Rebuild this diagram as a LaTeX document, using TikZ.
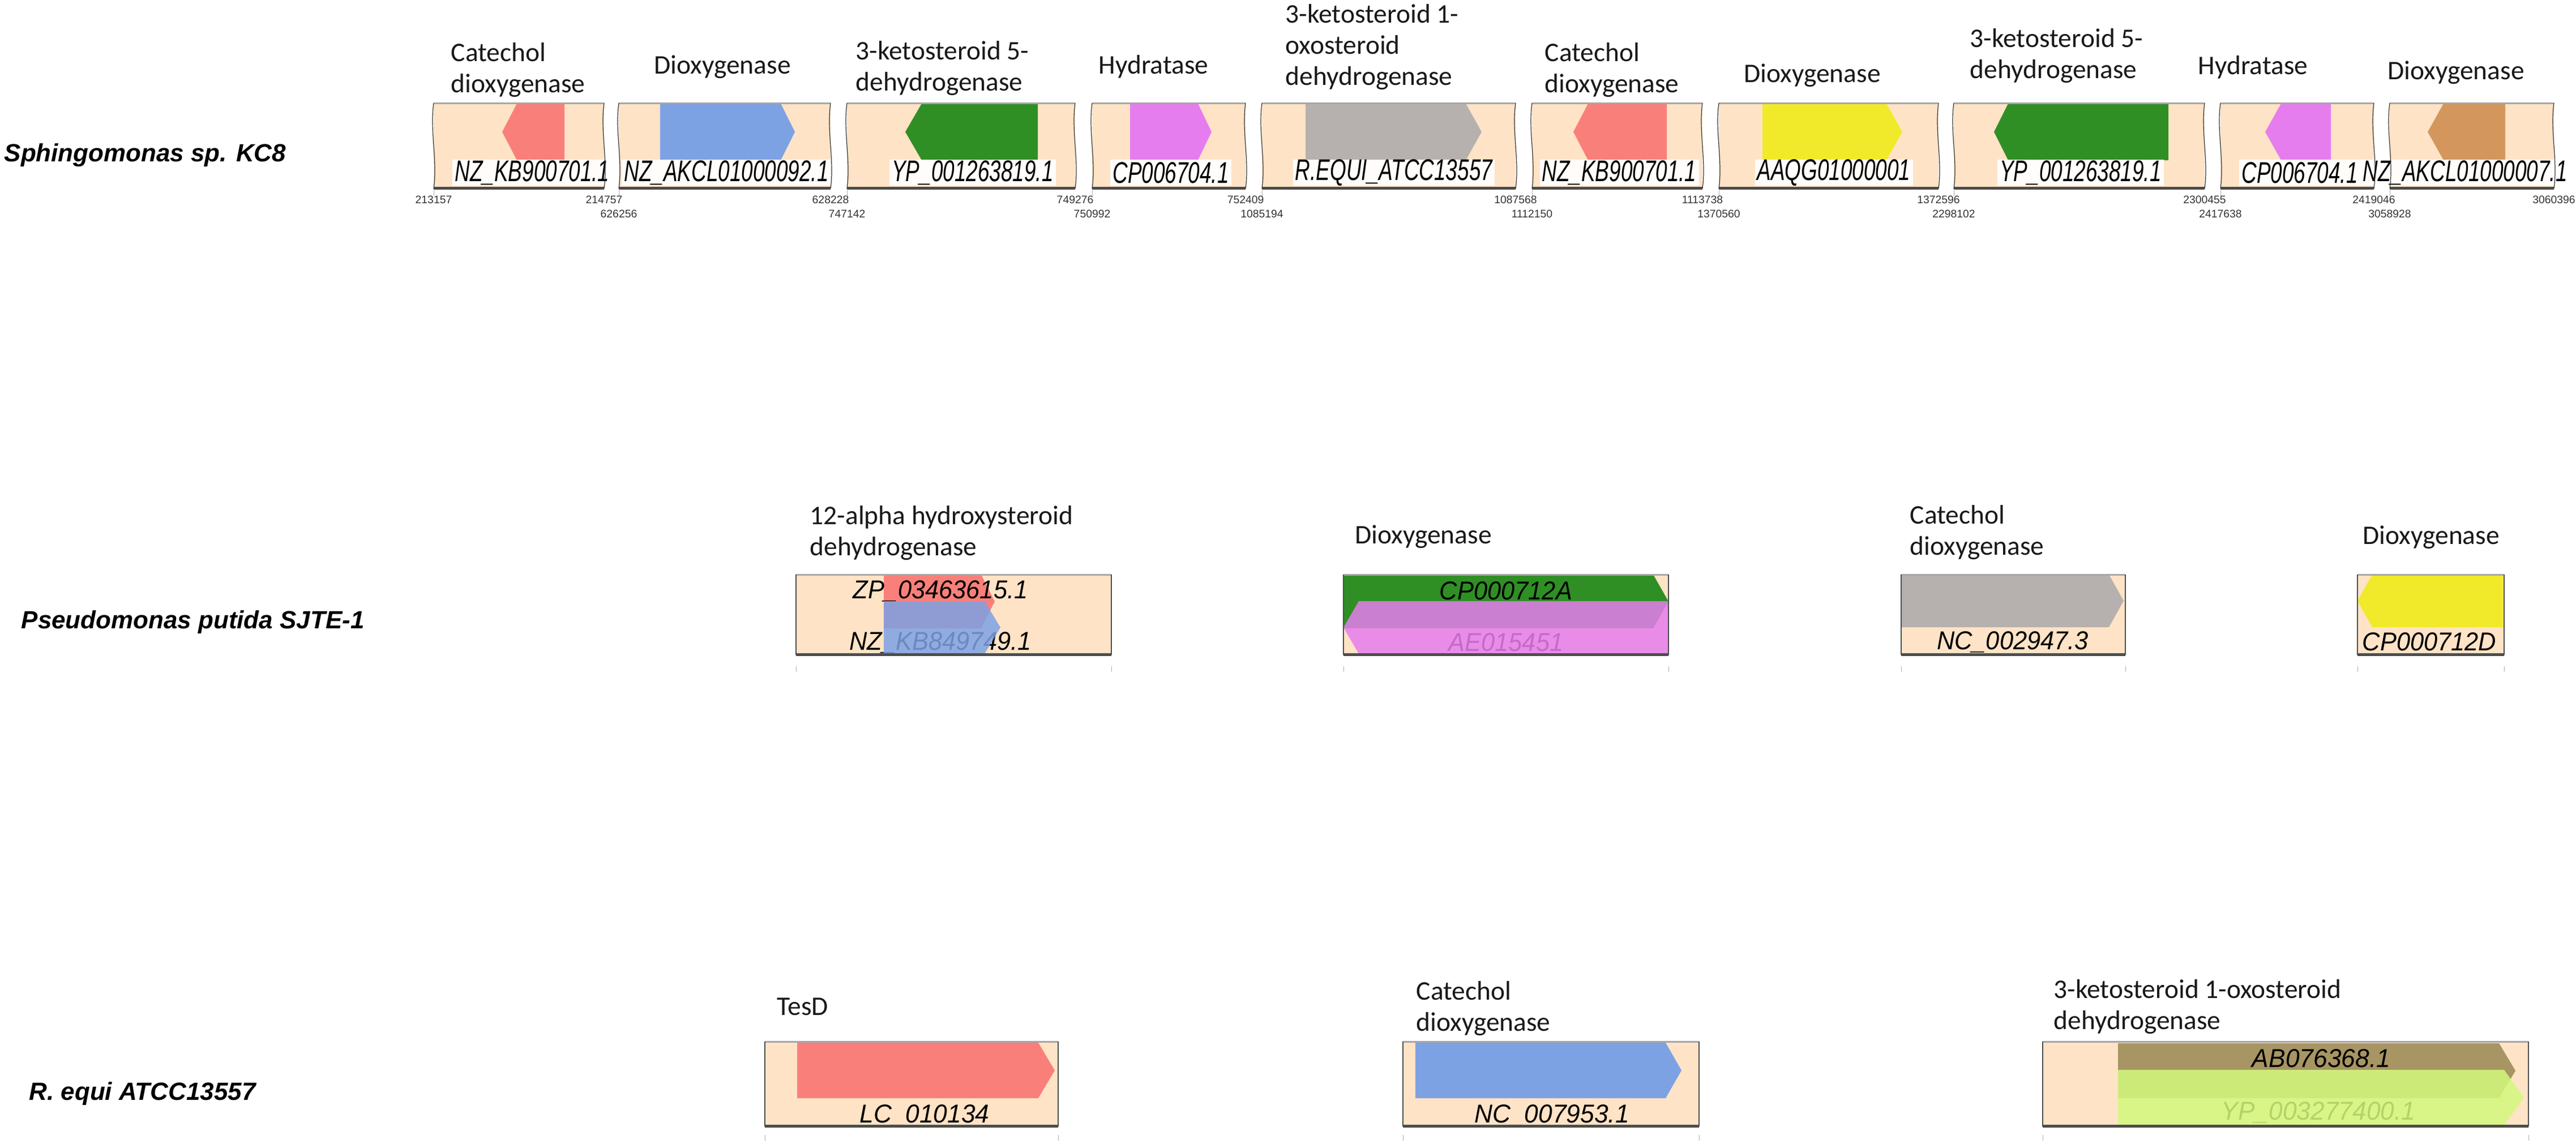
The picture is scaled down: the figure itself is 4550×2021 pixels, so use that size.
\documentclass[tikz,border=0pt]{standalone}
\usepackage{fontspec}
\usepackage{graphicx}
\setmainfont{Carlito}
\newfontfamily\accfont{Liberation Sans}
\usetikzlibrary{positioning}

\definecolor{beige}{HTML}{FFE3C6}
\definecolor{salmon}{HTML}{F9807A}
\definecolor{cblue}{HTML}{7DA2E4}
\definecolor{dgreen}{HTML}{2F8F25}
\definecolor{orchid}{HTML}{E67DEF}
\definecolor{lgrey}{HTML}{B6B1AE}
\definecolor{yel}{HTML}{F1EA2B}
\definecolor{brn}{HTML}{D3975D}
\definecolor{olv}{HTML}{A79563}
\definecolor{lime}{HTML}{D3F97C}

\tikzset{
  fn/.style={font=\fontsize{13.5}{15.6}\selectfont, text=black!90, align=left, inner sep=0pt, anchor=north west},
  species/.style={font=\accfont\bfseries\itshape\fontsize{12.5}{14}\selectfont, inner sep=0pt, anchor=base west},
  accone/.style={font=\accfont\itshape\fontsize{15}{17}\selectfont, fill=white, fill opacity=0.9, text opacity=1, inner xsep=0.04cm, inner ysep=0pt, minimum height=0.45cm},
  acctwo/.style={font=\accfont\itshape\fontsize{13}{15}\selectfont, inner sep=0pt},
  num/.style={font=\accfont\fontsize{5.5}{6}\selectfont, text=black!80, inner sep=0pt},
  topline/.style={draw=black!35, line width=0.03cm},
  botline/.style={draw=black!70, line width=0.05cm},
  breakline/.style={draw=black!80, line width=0.012cm},
  sideline/.style={draw=black!70, line width=0.015cm},
  tickline/.style={draw=black!30, line width=0.01cm}
}

% gene arrows: right pointing {x1}{x2}{tip}{ytop}{ybot}{colour}
\newcommand{\geneR}[6]{\fill[#6] (#1,#4) -- (#2,#4) -- (#3,{(#4+#5)/2}) -- (#2,#5) -- (#1,#5) -- cycle;}
% left pointing {tip}{x1}{x2}{ytop}{ybot}{colour}
\newcommand{\geneL}[6]{\fill[#6] (#1,{(#4+#5)/2}) -- (#2,#4) -- (#3,#4) -- (#3,#5) -- (#2,#5) -- cycle;}
\newcommand{\acc}[2]{\scalebox{#1}[1]{#2}}

\begin{document}
\begin{tikzpicture}[x=0.01cm, y=-0.01cm]
	\useasboundingbox (0,0) rectangle (4550,2021);

	% species names
	\node[species] (sph) at (7,285) {Sphingomonas sp. KC8};
	\node[species] (pse) at (37,1110) {Pseudomonas putida SJTE-1};
	\node[species] (req) at (51,1943) {R. equi ATCC13557};

	% Sphingomonas track
	\foreach \a/\b in {766/1067,1093/1467,1496/1899,1929/2200,2229/2677,2706/3007,3036/3424,3451/3894,3922/4193,4221/4511}
		\fill[beige] (\a,182) rectangle (\b,333);

	\geneL{887}{913}{997}{183}{283}{salmon}
	\geneR{1166}{1379}{1404}{183}{283}{cblue}
	\geneL{1599}{1628}{1833}{183}{283}{dgreen}
	\geneR{1996}{2116}{2140}{183}{283}{orchid}
	\geneR{2306}{2589}{2617}{183}{283}{lgrey}
	\geneL{2779}{2805}{2944}{183}{283}{salmon}
	\geneR{3113}{3332}{3360}{183}{283}{yel}
	\geneL{3522}{3547}{3830}{183}{283}{dgreen}
	\geneL{4001}{4029}{4117}{183}{283}{orchid}
	\geneL{4288}{4316}{4425}{183}{283}{brn}

	\node[accone] (acc1) at (940,305) {\acc{0.7}{NZ\_KB900701.1}};
	\node[accone] (acc2) at (1283,305) {\acc{0.7}{NZ\_AKCL01000092.1}};
	\node[accone] (acc3) at (1718,305) {\acc{0.7}{YP\_001263819.1}};
	\node[accone] (acc4) at (2068,305) {\acc{0.7}{CP006704.1}};
	\node[accone] (acc5) at (2462,305) {\acc{0.7}{R.EQUI\_ATCC13557}};
	\node[accone] (acc6) at (2860,305) {\acc{0.7}{NZ\_KB900701.1}};
	\node[accone] (acc7) at (3239,305) {\acc{0.7}{AAQG01000001}};
	\node[accone] (acc8) at (3675,305) {\acc{0.7}{YP\_001263819.1}};
	\node[accone] (acc9) at (4062,305) {\acc{0.7}{CP006704.1}};
	\node[accone] (acc10) at (4354,305) {\acc{0.7}{NZ\_AKCL01000007.1}};

	\foreach \a/\b in {766/1067,1093/1467,1496/1899,1929/2200,2229/2677,2706/3007,3036/3424,3451/3894,3922/4193,4221/4511}{
		\draw[topline] (\a,182) -- (\b,182);
		\draw[botline] (\a,332) -- (\b,332);
		\draw[breakline] (\a,182) .. controls +(-7,50) and +(7,-50) .. (\a,333);
		\draw[breakline] (\b,182) .. controls +(-7,50) and +(7,-50) .. (\b,333);
		\draw[tickline] (\a,336) -- (\a,346);
	}

	\foreach \x/\t/\yy [count=\i] in {766/213157/353,1067/214757/353,1093/626256/378,1467/628228/353,1496/747142/378,1899/749276/353,1929/750992/378,2200/752409/353,2229/1085194/378,2677/1087568/353,2706/1112150/378,3007/1113738/353,3036/1370560/378,3424/1372596/353,3451/2298102/378,3894/2300455/353,3922/2417638/378,4193/2419046/353,4221/3058928/378,4511/3060396/353}
		\node[num] (num\i) at (\x,\yy) {\t};

	% gene names above the track
	\node[fn] (lab1) at (796,75) {Catechol\\dioxygenase};
	\node[fn] (lab2) at (1155,97) {Dioxygenase};
	\node[fn] (lab3) at (1511,72) {3-ketosteroid 5-\\dehydrogenase};
	\node[fn] (lab4) at (1940,97) {Hydratase};
	\node[fn] (lab5) at (2270,7) {3-ketosteroid 1-\\oxosteroid\\dehydrogenase};
	\node[fn] (lab6) at (2728,75) {Catechol\\dioxygenase};
	\node[fn] (lab7) at (3080,112) {Dioxygenase};
	\node[fn] (lab8) at (3479,50) {3-ketosteroid 5-\\dehydrogenase};
	\node[fn] (lab9) at (3882,98) {Hydratase};
	\node[fn] (lab10) at (4217,107) {Dioxygenase};

	% Pseudomonas
	\foreach \a/\b in {1406/1963,2373/2947,3358/3754,4164/4423}
		\fill[beige] (\a,1015) rectangle (\b,1157);

	\geneR{1561}{1733}{1757}{1015}{1110}{salmon}
	\node[acctwo] (zp) at (1661,1044) {\acc{0.95}{ZP\_03463615.1}};
	\node[acctwo] (nzkb) at (1661,1135) {\acc{0.95}{NZ\_KB849749.1}};
	\geneR{1561}{1739}{1767}{1062}{1155}{cblue, fill opacity=0.85}

	\geneR{2373}{2920}{2947}{1015}{1110}{dgreen}
	\node[acctwo] (cpa) at (2660,1044) {\acc{0.95}{CP000712A}};
	\node[acctwo] (ae) at (2660,1135) {\acc{0.95}{AE015451}};
	\geneL{2373}{2400}{2947}{1062}{1155}{orchid, fill opacity=0.85}

	\geneR{3358}{3725}{3751}{1015}{1108}{lgrey}
	\node[acctwo] (nc) at (3555,1134) {\acc{0.95}{NC\_002947.3}};

	\geneL{4164}{4190}{4421}{1015}{1108}{yel}
	\node[acctwo] (cpd) at (4291,1134) {\acc{0.95}{CP000712D}};

	\foreach \a/\b in {1406/1963,2373/2947,3358/3754,4164/4423}{
		\draw[topline] (\a,1015) -- (\b,1015);
		\draw[botline] (\a,1156) -- (\b,1156);
		\draw[sideline] (\a,1015) -- (\a,1157);
		\draw[sideline] (\b,1015) -- (\b,1157);
		\draw[tickline] (\a,1177) -- (\a,1187);
		\draw[tickline] (\b,1177) -- (\b,1187);
	}

	\node[fn] (lab11) at (1430,893) {12-alpha hydroxysteroid\\dehydrogenase};
	\node[fn] (lab12) at (2393,927) {Dioxygenase};
	\node[fn] (lab13) at (3373,892) {Catechol\\dioxygenase};
	\node[fn] (lab14) at (4173,928) {Dioxygenase};

	% R. equi
	\foreach \a/\b in {1351/1869,2478/3001,3608/4466}
		\fill[beige] (\a,1840) rectangle (\b,1990);

	\geneR{1408}{1834}{1863}{1842}{1940}{salmon}
	\node[acctwo] (lc) at (1633,1970) {\acc{0.97}{LC\_010134}};

	\geneR{2500}{2942}{2970}{1842}{1940}{cblue}
	\node[acctwo] (ncb) at (2741,1970) {\acc{0.97}{NC\_007953.1}};

	\geneR{3741}{4414}{4443}{1843}{1940}{olv}
	\node[acctwo] (ab) at (4100,1870) {\acc{0.97}{AB076368.1}};
	\node[acctwo] (yp) at (4095,1965) {\acc{0.97}{YP\_003277400.1}};
	\geneR{3741}{4423}{4458}{1890}{1988}{lime, fill opacity=0.85}

	\foreach \a/\b in {1351/1869,2478/3001,3608/4466}{
		\draw[topline] (\a,1840) -- (\b,1840);
		\draw[botline] (\a,1989) -- (\b,1989);
		\draw[sideline] (\a,1840) -- (\a,1990);
		\draw[sideline] (\b,1840) -- (\b,1990);
		\draw[tickline] (\a,2005) -- (\a,2015);
		\draw[tickline] (\b,2005) -- (\b,2015);
	}

	\node[fn] (lab15) at (1372,1762) {TesD};
	\node[fn] (lab16) at (2501,1733) {Catechol\\dioxygenase};
	\node[fn] (lab17) at (3627,1730) {3-ketosteroid 1-oxosteroid\\dehydrogenase};
\end{tikzpicture}
\end{document}
